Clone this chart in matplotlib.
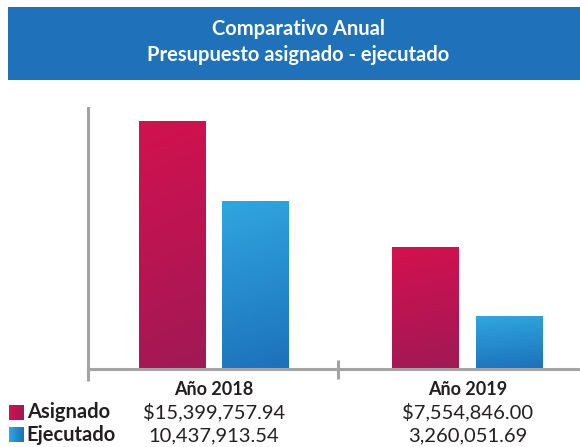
import numpy as np
import matplotlib.pyplot as plt
from matplotlib.colors import LinearSegmentedColormap
from matplotlib.patches import Rectangle

# datos
years = ['Año 2018', 'Año 2019']
asignado = [15399757.94, 7554846.00]
ejecutado = [10437913.54, 3260051.69]
asignado_txt = ['$15,399,757.94', '$7,554,846.00']
ejecutado_txt = ['10,437,913.54', '3,260,051.69']
series = ['Asignado', 'Ejecutado']

cmap_a = LinearSegmentedColormap.from_list('asig', ['#A01955', '#D3114F'])
cmap_e = LinearSegmentedColormap.from_list('ejec', ['#1C71BB', '#30A6DF'])

fig = plt.figure(figsize=(5.8, 4.47), dpi=100)
plt.rcParams['font.family'] = ['Lato', 'DejaVu Sans']

# banner del titulo
fig.patches.append(Rectangle((0.0138, 0.821), 1.0, 0.163, transform=fig.transFigure,
                             facecolor='#1F71B9', edgecolor='none', zorder=0))
fig.text(0.514, 0.935, 'Comparativo Anual', color='white', fontsize=14.5,
         fontweight='bold', ha='center', va='center')
fig.text(0.514, 0.876, 'Presupuesto asignado - ejecutado', color='white', fontsize=14.5,
         fontweight='bold', ha='center', va='center')

ax = fig.add_axes([0.1517, 0.1745, 0.8483, 0.5839])
x = np.arange(len(years))
w = 0.264
off = 0.164
bars_a = ax.bar(x - off, asignado, w, color='none')
bars_e = ax.bar(x + off, ejecutado, w, color='none')

# gradiente en cada barra
gy, gx = np.mgrid[0:1:200j, 0:1:50j]
grad = gy + 0.12 * (1 - gx)
grad = (grad - grad.min()) / (grad.max() - grad.min())
for bars, cm in [(bars_a, cmap_a), (bars_e, cmap_e)]:
    for b in bars:
        x0, bw, h = b.get_x(), b.get_width(), b.get_height()
        ax.imshow(grad, cmap=cm, origin='lower', aspect='auto',
                  extent=[x0, x0 + bw, 0, h], zorder=2)

ax.set_xlim(-0.497, 1.444)
ax.set_ylim(0, 16.27e6)
for s in ['top', 'right']:
    ax.spines[s].set_visible(False)
for s in ['left', 'bottom']:
    ax.spines[s].set_color('#A3A3A3')
    ax.spines[s].set_linewidth(2.2)
ax.set_xticks([])
ax.set_yticks([])

# marcas del eje x
trans = ax.get_xaxis_transform()
ax.plot([-0.497, -0.497], [0, -0.045], color='#A3A3A3', lw=2.2, transform=trans,
        clip_on=False, solid_capstyle='butt')
ax.plot([0.49, 0.49], [0.035, -0.04], color='#A3A3A3', lw=2.2, transform=trans,
        clip_on=False, solid_capstyle='butt')

# tabla de valores
for i, yr in enumerate(years):
    ax.text(x[i], -0.08, yr, transform=trans, ha='center', va='center',
            fontsize=13, fontweight='bold', color='#231F20')
    ax.text(x[i], -0.165, asignado_txt[i], transform=trans, ha='center', va='center',
            fontsize=14.5, color='#231F20')
    ax.text(x[i], -0.258, ejecutado_txt[i], transform=trans, ha='center', va='center',
            fontsize=14.5, color='#231F20')

rows_y = [0.061, 0.011]
for name, cm, yy in zip(series, [cmap_a, cmap_e], rows_y):
    sq = fig.add_axes([0.0155, yy, 0.025, 0.033])
    sq.imshow(np.linspace(1, 0, 20)[None, :] * np.ones((20, 1)), cmap=cm, aspect='auto')
    sq.axis('off')
    fig.text(0.046, yy + 0.0165, name, fontsize=14.5, fontweight='bold', color='#231F20',
             va='center', ha='left')

fig.savefig('out.png', dpi=100)
